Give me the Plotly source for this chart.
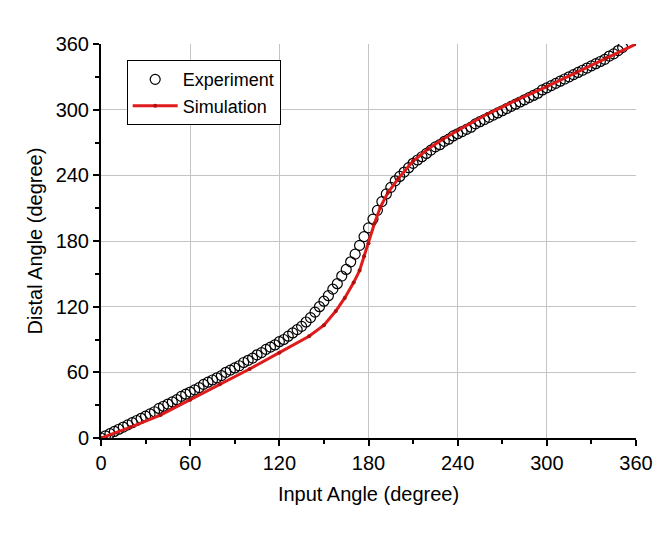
import plotly.graph_objects as go

# experiment: input angle vs distal angle (degrees)
exp_x = [0, 3, 6, 9, 12, 15, 18, 21, 24, 27, 30, 33, 36, 39, 42, 45, 48, 51, 54, 57,
         60, 63, 66, 69, 72, 75, 78, 81, 84, 87, 90, 93, 96, 99, 102, 105, 108, 111, 114, 117,
         120, 123, 126, 129, 132, 135, 138, 141, 144, 147, 150, 153, 156, 159, 162, 165, 168, 171, 174, 177,
         180, 183, 186, 189, 192, 195, 198, 201, 204, 207, 210, 213, 216, 219, 222, 225, 228, 231, 234, 237,
         240, 243, 246, 249, 252, 255, 258, 261, 264, 267, 270, 273, 276, 279, 282, 285, 288, 291, 294, 297,
         300, 303, 306, 309, 312, 315, 318, 321, 324, 327, 330, 333, 336, 339, 342, 345, 348, 351]
exp_y = [0, 2, 4, 6, 8, 10, 12, 14, 16, 18, 20, 22, 24, 27, 29, 31, 33, 35, 38, 40,
         42, 44, 46, 49, 51, 53, 55, 57, 60, 62, 64, 66, 69, 71, 73, 76, 78, 81, 83, 85,
         88, 90, 93, 96, 99, 102, 106, 110, 115, 120, 125, 130, 136, 141, 148, 154, 161, 168, 176, 184,
         192, 200, 208, 216, 223, 229, 235, 239, 243, 247, 251, 254, 257, 260, 263, 266, 268, 271, 273, 276,
         278, 280, 282, 284, 287, 289, 291, 293, 295, 297, 299, 301, 303, 305, 307, 309, 311, 313, 315, 318,
         320, 322, 324, 326, 328, 330, 332, 334, 336, 338, 340, 342, 344, 346, 349, 351, 354, 357]

# simulation
sim_x = [0, 20, 40, 60, 80, 100, 120, 140, 150, 158, 164, 170, 174, 177, 180, 184, 188, 193,
         200, 210, 220, 230, 240, 260, 280, 300, 320, 340, 360]
sim_y = [0, 10, 21, 35, 49, 63, 78, 93, 103, 116, 128, 142, 153, 166, 178, 196, 211, 224,
         237, 253, 264, 273, 281, 296, 309, 321, 334, 347, 360]

ticks = [0, 60, 120, 180, 240, 300, 360]

font = "Liberation Sans, Arial, sans-serif"

fig = go.Figure()
fig.add_trace(go.Scatter(
    x=exp_x, y=exp_y, mode="markers", name="Experiment",
    marker=dict(symbol="circle-open", size=10, color="black", line=dict(width=1.2, color="black")),
))
fig.add_trace(go.Scatter(
    x=sim_x, y=sim_y, mode="lines+markers", name="Simulation",
    line=dict(color="#e01b1b", width=3),
    marker=dict(size=4, color="#b01010"),
))

axis = dict(
    range=[0, 360], tickvals=ticks, ticks="outside", ticklen=6, tickwidth=1.5,
    tickcolor="black", showline=True, linecolor="black", linewidth=2,
    showgrid=True, gridcolor="#c4c4c4", gridwidth=1, zeroline=False,
    tickfont=dict(size=20, color="black", family=font),
    minor=dict(tickvals=[30, 90, 150, 210, 270, 330], ticks="outside", ticklen=4,
               tickcolor="black", showgrid=False),
)

fig.update_layout(
    width=657, height=537,
    margin=dict(l=93, r=27, t=36, b=107),
    paper_bgcolor="white", plot_bgcolor="white",
    font=dict(family=font, color="black"),
    xaxis=dict(axis, title=dict(text="Input Angle (degree)", font=dict(size=20), standoff=14)),
    yaxis=dict(axis, title=dict(text="Distal Angle (degree)", font=dict(size=20), standoff=8)),
    legend=dict(x=0.048, y=0.959, xanchor="left", yanchor="top",
                bgcolor="white", bordercolor="black", borderwidth=1, itemwidth=45,
                font=dict(size=18, family=font), tracegroupgap=0),
    showlegend=True,
)

fig.write_html("out.html")
